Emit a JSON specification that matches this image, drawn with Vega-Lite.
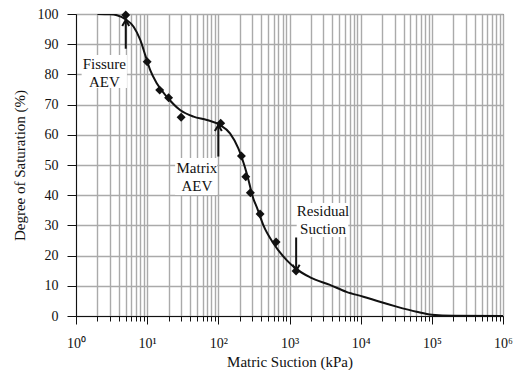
{
  "$schema": "https://vega.github.io/schema/vega-lite/v6.json",
  "autosize": "none",
  "width": 427,
  "height": 302,
  "padding": {"left": 76, "top": 14, "right": 15, "bottom": 54},
  "background": "white",
  "config": {
    "view": {"stroke": "#222", "strokeWidth": 1},
    "font": "Liberation Serif",
    "axis": {
      "labelFont": "Liberation Serif",
      "titleFont": "Liberation Serif",
      "labelColor": "#111",
      "titleColor": "#111",
      "titleFontWeight": "normal",
      "domainColor": "#111",
      "tickColor": "#111",
      "gridColor": "#aaaaaa",
      "gridWidth": 1.4,
      "gridOpacity": 1
    },
    "axisY": {"tickCount": 10, "labelOverlap": false}
  },
  "datasets": {
    "points": [
      {"s": 5.0, "sat": 99.7},
      {"s": 10, "sat": 84.2},
      {"s": 15, "sat": 74.8},
      {"s": 20, "sat": 72.3},
      {"s": 30, "sat": 65.8},
      {"s": 108, "sat": 63.8},
      {"s": 211, "sat": 53.0},
      {"s": 243, "sat": 46.1},
      {"s": 282, "sat": 40.8},
      {"s": 386, "sat": 33.8},
      {"s": 648, "sat": 24.5},
      {"s": 1236, "sat": 14.9}
    ],
    "curve": [
      {"s": 2, "sat": 100},
      {"s": 3, "sat": 99.9},
      {"s": 3.76, "sat": 99.6},
      {"s": 5, "sat": 98.2},
      {"s": 6.45, "sat": 95.8},
      {"s": 8, "sat": 91.4},
      {"s": 9.4, "sat": 86.4},
      {"s": 11, "sat": 81.5},
      {"s": 13.7, "sat": 77.0},
      {"s": 18.9, "sat": 72.6},
      {"s": 29, "sat": 68.2},
      {"s": 44.8, "sat": 66.0},
      {"s": 69, "sat": 64.9},
      {"s": 106, "sat": 63.2},
      {"s": 146, "sat": 60.5},
      {"s": 191, "sat": 55.5},
      {"s": 251, "sat": 47.2},
      {"s": 311, "sat": 38.8},
      {"s": 350, "sat": 35.8},
      {"s": 430, "sat": 30.0},
      {"s": 593, "sat": 24.1},
      {"s": 912, "sat": 18.5},
      {"s": 1240, "sat": 15.6},
      {"s": 1950, "sat": 12.8},
      {"s": 3700, "sat": 10.3},
      {"s": 6300, "sat": 8.0},
      {"s": 10900, "sat": 6.4},
      {"s": 18600, "sat": 4.7},
      {"s": 31900, "sat": 3.1},
      {"s": 61000, "sat": 1.4},
      {"s": 100000, "sat": 0.4},
      {"s": 200000, "sat": 0.05},
      {"s": 1000000, "sat": 0}
    ],
    "boxes": [
      {"x1": 1.2, "x2": 5.2, "y1": 75.5, "y2": 86.4},
      {"x1": 24.7, "x2": 96, "y1": 40.1, "y2": 52.3},
      {"x1": 1262, "x2": 6700, "y1": 26.2, "y2": 37.4}
    ],
    "labels": [
      {"s": 2.5, "sat": 83.6, "txt": ["Fissure", "AEV"]},
      {"s": 50, "sat": 48.9, "txt": ["Matrix", "AEV"]},
      {"s": 2960, "sat": 34.9, "txt": ["Residual", "Suction"]}
    ],
    "arrows": [
      {"s": 5, "from": 88.5, "tip": 98.0, "dir": "up"},
      {"s": 100, "from": 52.8, "tip": 63.2, "dir": "up"},
      {"s": 1240, "from": 26.0, "tip": 15.0, "dir": "down"}
    ]
  },
  "encoding": {
    "y": {
      "field": "sat", "type": "quantitative",
      "scale": {"domain": [0, 100], "nice": false, "zero": false},
      "axis": {
        "title": "Degree of Saturation (%)",
        "titleFontSize": 15,
        "titlePadding": 10,
        "labelFontSize": 14,
        "labelPadding": 9,
        "tickSize": 9,
        "tickCount": 10,
        "labelOverlap": false,
        "grid": true
      }
    }
  },
  "layer": [
    {
      "data": {"name": "curve"},
      "mark": {"type": "line", "color": "#111", "strokeWidth": 2, "interpolate": "monotone", "clip": true},
      "encoding": {
        "x": {
          "field": "s", "type": "quantitative",
          "scale": {"type": "log", "domain": [1, 1000000], "nice": false},
          "axis": {
            "title": "Matric Suction (kPa)",
            "titleFontSize": 15,
            "titlePadding": 4,
            "labelFontSize": 14,
            "labelPadding": 12,
            "grid": true,
            "labelExpr": "abs(log(datum.value)/LN10 - round(log(datum.value)/LN10)) < 0.001 ? '10' + ['⁰','¹','²','³','⁴','⁵','⁶'][round(log(datum.value)/LN10)] : ''",
            "tickSize": {"condition": {"test": "abs(log(datum.value)/LN10 - round(log(datum.value)/LN10)) < 0.001", "value": 8}, "value": 5},
            "labelFlush": false,
            "labelOverlap": false
          }
        }
      }
    },
    {
      "data": {"name": "boxes"},
      "mark": {"type": "rect", "fill": "white"},
      "encoding": {
        "x": {"field": "x1", "type": "quantitative"},
        "x2": {"field": "x2"},
        "y": {"field": "y1", "type": "quantitative"},
        "y2": {"field": "y2"}
      }
    },
    {
      "data": {"name": "labels"},
      "mark": {"type": "text", "font": "Liberation Serif", "fontSize": 15, "color": "#111", "align": "center", "baseline": "middle", "lineHeight": 18},
      "encoding": {
        "x": {"field": "s", "type": "quantitative"},
        "text": {"field": "txt"}
      }
    },
    {
      "data": {"name": "arrows"},
      "mark": {"type": "rule", "color": "#111", "strokeWidth": 2},
      "encoding": {
        "x": {"field": "s", "type": "quantitative"},
        "y": {"field": "from", "type": "quantitative"},
        "y2": {"field": "tip"}
      }
    },
    {
      "data": {"name": "arrows"},
      "mark": {"type": "point", "filled": false, "stroke": "#111", "strokeWidth": 2, "size": 196, "opacity": 1},
      "encoding": {
        "x": {"field": "s", "type": "quantitative"},
        "y": {"field": "tip", "type": "quantitative"},
        "shape": {
          "field": "dir", "type": "nominal",
          "scale": {"domain": ["up", "down"], "range": ["M-0.5,0.85L0,0L0.5,0.85", "M-0.5,-0.85L0,0L0.5,-0.85"]},
          "legend": null
        }
      }
    },
    {
      "data": {"name": "points"},
      "mark": {"type": "point", "shape": "diamond", "filled": true, "color": "#111", "size": 80, "opacity": 1},
      "encoding": {
        "x": {"field": "s", "type": "quantitative"}
      }
    }
  ]
}
